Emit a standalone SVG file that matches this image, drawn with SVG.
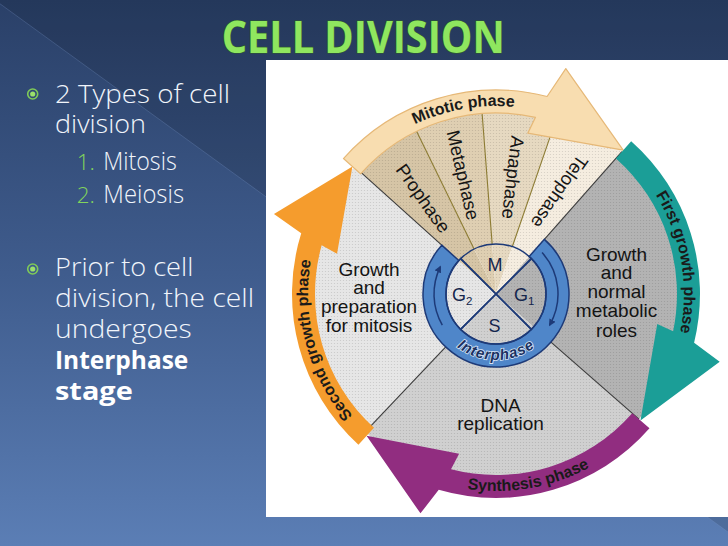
<svg xmlns="http://www.w3.org/2000/svg" width="728" height="546" viewBox="0 0 728 546">
<defs>
<linearGradient id="bg" x1="0" y1="0" x2="0" y2="1">
<stop offset="0" stop-color="#2a4068"/>
<stop offset="0.5" stop-color="#3f5c8d"/>
<stop offset="1" stop-color="#5b7eb5"/>
</linearGradient>
<pattern id="dots" width="3" height="3" patternUnits="userSpaceOnUse">
<circle cx="1.5" cy="1.5" r="0.6" fill="#000" fill-opacity="0.13"/>
</pattern>
<marker id="ah" viewBox="0 0 10 10" refX="8" refY="5" markerWidth="7" markerHeight="7" markerUnits="userSpaceOnUse" orient="auto">
<path d="M0,0 L10,5 L0,10 Z" fill="#1d3a78"/>
</marker>
<path id="tpMit" d="M 351.98 173.16 A 188 188 0 0 1 590 131.19"/>
<path id="tpG1" d="M 590 131.19 A 188 188 0 0 1 640.02 414.84"/>
<path id="tpS" d="M 369.37 444.91 A 197 197 0 0 0 666.61 392.5"/>
<path id="tpG2" d="M 416.55 464.39 A 188 188 0 0 1 342 186.17"/>
<path id="tpInt" d="M 445.44 336.42 A 66 66 0 0 0 546.56 336.42"/>
</defs>
<style>
.sl{font-family:"Open Sans","Liberation Sans",sans-serif;font-weight:300;fill:#f1f5fb;font-size:25px}
.sb{font-family:"Open Sans","Liberation Sans",sans-serif;font-weight:700;fill:#ffffff;font-size:25px}
.num{font-family:"Open Sans","Liberation Sans",sans-serif;font-weight:300;fill:#82d45c;font-size:22.5px;text-anchor:end}
.lab{font-family:"Liberation Sans",Arial,sans-serif;font-size:19px;fill:#141414;text-anchor:middle}
.mit{font-family:"Liberation Sans",Arial,sans-serif;font-size:18.5px;fill:#141414;text-anchor:middle}
.band{font-family:"Liberation Sans",Arial,sans-serif;font-size:16px;font-weight:bold;fill:#1a1a1a}
.cyc{font-family:"Liberation Sans",Arial,sans-serif;font-size:18px;fill:#14264d}
.div{stroke:#3a3a3a;stroke-width:1.1;fill:none}
.olive{stroke:#8c7b32;stroke-width:1.1;fill:none}
.navy{stroke:#1d3a78;stroke-width:1.5;fill:none}
</style>

<!-- slide background -->
<rect x="0" y="0" width="728" height="546" fill="url(#bg)"/>
<polygon points="0,0 728,0 728,532 0,3.8" fill="#000" fill-opacity="0.12"/>
<line x1="0" y1="3.8" x2="728" y2="532" stroke="#7f9ccc" stroke-opacity="0.25" stroke-width="1"/>

<!-- title -->
<g id="title">
<text x="221.7" y="53.3" textLength="283" lengthAdjust="spacingAndGlyphs" font-family="'Open Sans','Liberation Sans',sans-serif" font-weight="700" font-size="44" fill="#8fe65f" stroke="#2f5a2c" stroke-width="1.2" paint-order="stroke">CELL DIVISION</text>
</g>

<!-- bullet text -->
<g id="bullets">
<circle cx="32.7" cy="94" r="5" fill="none" stroke="#7fcb58" stroke-width="1.6"/>
<circle cx="32.7" cy="94" r="2.6" fill="#9be06b"/>
<text class="sl" x="55" y="102.7" textLength="175" lengthAdjust="spacingAndGlyphs">2 Types of cell</text>
<text class="sl" x="55" y="133.3" textLength="91" lengthAdjust="spacingAndGlyphs">division</text>
<text class="num" x="95" y="170">1.</text>
<text class="sl" x="103.3" y="170" font-size="22.5" textLength="73.4" lengthAdjust="spacingAndGlyphs">Mitosis</text>
<text class="num" x="95" y="203.3">2.</text>
<text class="sl" x="103.3" y="203.3" font-size="22.5" textLength="80.7" lengthAdjust="spacingAndGlyphs">Meiosis</text>
<circle cx="32.7" cy="269" r="5" fill="none" stroke="#7fcb58" stroke-width="1.6"/>
<circle cx="32.7" cy="269" r="2.6" fill="#9be06b"/>
<text class="sl" x="55" y="276" textLength="138.3" lengthAdjust="spacingAndGlyphs">Prior to cell</text>
<text class="sl" x="55" y="307.3" textLength="199" lengthAdjust="spacingAndGlyphs">division, the cell</text>
<text class="sl" x="55" y="338.3" textLength="136.7" lengthAdjust="spacingAndGlyphs">undergoes</text>
<text class="sb" x="55" y="369.3" textLength="133.3" lengthAdjust="spacingAndGlyphs">Interphase</text>
<text class="sb" x="55" y="400" textLength="77.7" lengthAdjust="spacingAndGlyphs">stage</text>
</g>

<!-- picture panel -->
<rect x="266" y="60" width="462" height="457" fill="#ffffff"/>

<!-- sectors -->
<g id="sector-g1">
<path d="M 496 294 L 621.89 151.69 A 190 190 0 0 1 638.96 419.15 Z" fill="#b3b3b3"/>
</g>
<g id="sector-s">
<path d="M 496 294 L 638.96 419.15 A 190 190 0 0 1 365.2 431.83 Z" fill="#d0d0d0"/>
</g>
<g id="sector-g2">
<path d="M 496 294 L 365.2 431.83 A 190 190 0 0 1 354.81 166.87 Z" fill="#e6e6e6"/>
</g>
<g id="sector-prophase">
<path d="M 496 294 L 354.81 166.87 A 190 190 0 0 1 412.7 123.23 Z" fill="#d6c5a6"/>
</g>
<g id="sector-metaphase">
<path d="M 496 294 L 412.7 123.23 A 190 190 0 0 1 481.43 104.55 Z" fill="#dfcfb2"/>
</g>
<g id="sector-anaphase">
<path d="M 496 294 L 481.43 104.55 A 190 190 0 0 1 557.86 114.35 Z" fill="#e6d9c1"/>
</g>
<g id="sector-telophase">
<path d="M 496 294 L 557.86 114.35 A 190 190 0 0 1 621.89 151.69 Z" fill="#f5ede0"/>
</g>
<circle cx="496" cy="294" r="190" fill="url(#dots)"/>

<!-- dividing lines -->
<g id="dividers">
<line class="div" x1="544.37" y1="239.32" x2="621.89" y2="151.69"/>
<line class="div" x1="550.93" y1="342.09" x2="638.96" y2="419.15"/>
<line class="div" x1="445.75" y1="346.95" x2="365.2" y2="431.83"/>
<line class="div" x1="441.75" y1="245.16" x2="354.81" y2="166.87"/>
<line class="olive" x1="474.08" y1="249.06" x2="416.21" y2="130.42"/>
<line class="olive" x1="492.17" y1="244.15" x2="482.04" y2="112.53"/>
<line class="olive" x1="512.28" y1="246.73" x2="555.26" y2="121.92"/>
</g>

<!-- sector labels -->
<g id="label-g2">
<text class="lab" x="369" y="276">Growth</text>
<text class="lab" x="369" y="294.3">and</text>
<text class="lab" x="369" y="312.5">preparation</text>
<text class="lab" x="369" y="331.5">for mitosis</text>
</g>
<g id="label-g1">
<text class="lab" x="616.5" y="260.5">Growth</text>
<text class="lab" x="616.5" y="279">and</text>
<text class="lab" x="616.5" y="298">normal</text>
<text class="lab" x="616.5" y="317">metabolic</text>
<text class="lab" x="616.5" y="336.5">roles</text>
</g>
<g id="label-s">
<text class="lab" x="500.5" y="411.5">DNA</text>
<text class="lab" x="500.5" y="429.5">replication</text>
</g>
<g id="label-mitotic-stages">
<text class="mit" transform="translate(423.2,198.3) rotate(54.6)" dy="0.35em">Prophase</text>
<text class="mit" transform="translate(463.2,175) rotate(76.9)" dy="0.35em">Metaphase</text>
<text class="mit" transform="translate(513,177.5) rotate(96.7)" dy="0.35em">Anaphase</text>
<text class="mit" transform="translate(559.7,191.7) rotate(125)" dy="0.35em">Telophase</text>
</g>

<!-- phase arrows -->
<g id="connectors">
<g id="arrow-mitotic">
<path d="M 343.45 158.56 A 204 204 0 0 1 547.08 96.51 L 565.79 68.55 L 623.22 150.19 L 527.85 133.12 L 535.48 117.36 A 181 181 0 0 0 360.65 173.83 Z" fill="#f8ddb0" stroke="#e6b877" stroke-width="1.2" stroke-linejoin="round"/>
<text class="band" font-size="17"><textPath href="#tpMit" startOffset="50%" text-anchor="middle">Mitotic phase</textPath></text>
</g>
<g id="arrow-g1">
<path d="M 631.17 141.2 A 204 204 0 0 1 694.1 342.65 L 719.7 361.7 L 640.46 420.47 L 657.26 323.88 L 673.11 331.32 A 181 181 0 0 0 615.93 158.43 Z" fill="#1b9e97"/>
<text class="band" font-size="17" fill="#0f1f1f"><textPath href="#tpG1" startOffset="50%" text-anchor="middle">First growth phase</textPath></text>
</g>
<g id="arrow-s">
<path d="M 649.49 428.37 A 204 204 0 0 1 438.74 489.8 L 420.46 513.36 L 366.53 435.79 L 459.1 453.8 L 450.99 469.32 A 181 181 0 0 0 632.18 413.22 Z" fill="#912d80"/>
<text class="band"><textPath href="#tpS" startOffset="50%" text-anchor="middle">Synthesis phase</textPath></text>
</g>
<g id="arrow-g2">
<path d="M 358.44 444.65 A 204 204 0 0 1 301.22 233.33 L 273.95 214.07 L 352.42 166.53 L 337.02 253.77 L 321.66 245.33 A 181 181 0 0 0 373.95 427.67 Z" fill="#f59c2d"/>
<text class="band" font-size="16.5"><textPath href="#tpG2" startOffset="50%" text-anchor="middle">Second growth phase</textPath></text>
</g>
</g>

<!-- cell cycle hub -->
<g id="interphase-ring">
<path d="M 544.37 239.32 A 73 73 0 1 1 441.75 245.16 L 458.84 260.54 A 50 50 0 1 0 529.13 256.55 Z" fill="#4f86c9" stroke="#1d3a78" stroke-width="1.5"/>
<path class="navy" d="M 442.31 325 A 62 62 0 0 1 440.28 266.82" marker-end="url(#ah)"/>
<path class="navy" d="M 542.07 252.51 A 62 62 0 0 1 549.69 325" marker-end="url(#ah)"/>
<text font-family="'Liberation Sans',Arial,sans-serif" font-size="15" font-weight="bold" font-style="italic" fill="#1b3262" stroke="#d6e4f6" stroke-width="1.6" paint-order="stroke" letter-spacing="0.8"><textPath href="#tpInt" startOffset="50%" text-anchor="middle">Interphase</textPath></text>
</g>
<g id="phase-m">
<path d="M 496 294 L 460.64 258.64 A 50 50 0 0 1 531.36 258.64 Z" fill="#7aa7de" class="navy"/>
<text class="cyc" x="495" y="270.5" text-anchor="middle">M</text>
</g>
<g id="phase-g1">
<path d="M 496 294 L 531.36 258.64 A 50 50 0 0 1 531.36 329.36 Z" fill="#96bde9" class="navy"/>
<text class="cyc" x="514" y="300.5">G<tspan font-size="11.5" dy="4">1</tspan></text>
</g>
<g id="phase-s">
<path d="M 496 294 L 531.36 329.36 A 50 50 0 0 1 460.64 329.36 Z" fill="#6a99d6" class="navy"/>
<text class="cyc" x="494.5" y="332" text-anchor="middle">S</text>
</g>
<g id="phase-g2">
<path d="M 496 294 L 460.64 329.36 A 50 50 0 0 1 460.64 258.64 Z" fill="#b7cfef" class="navy"/>
<text class="cyc" x="452" y="300.5">G<tspan font-size="11.5" dy="4">2</tspan></text>
</g>
</svg>
